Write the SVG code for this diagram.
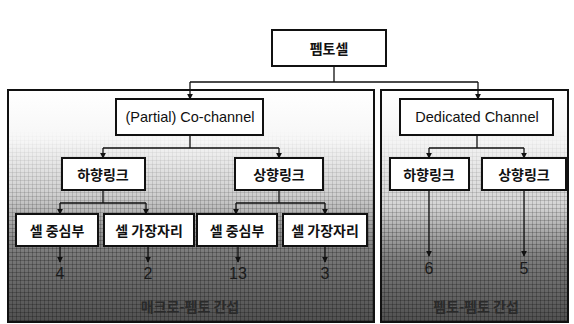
<svg xmlns="http://www.w3.org/2000/svg" width="574" height="324" viewBox="0 0 574 324">
<defs>
<linearGradient id="bgL" x1="0" y1="90" x2="0" y2="322" gradientUnits="userSpaceOnUse">
<stop offset="0" stop-color="#ffffff"/>
<stop offset="0.22" stop-color="#f6f6f6"/>
<stop offset="0.45" stop-color="#cfcfcf"/>
<stop offset="0.7" stop-color="#7a7a7a"/>
<stop offset="1" stop-color="#505050"/>
</linearGradient>
<linearGradient id="bgR" x1="0" y1="90" x2="0" y2="322" gradientUnits="userSpaceOnUse">
<stop offset="0" stop-color="#ffffff"/>
<stop offset="0.22" stop-color="#f4f4f4"/>
<stop offset="0.5" stop-color="#d4d4d4"/>
<stop offset="0.72" stop-color="#7e7e7e"/>
<stop offset="1" stop-color="#505050"/>
</linearGradient>
<linearGradient id="fade" x1="0" y1="130" x2="0" y2="240" gradientUnits="userSpaceOnUse">
<stop offset="0" stop-color="#000"/>
<stop offset="1" stop-color="#fff"/>
</linearGradient>
<mask id="gm" maskUnits="userSpaceOnUse" x="0" y="0" width="574" height="324">
<rect x="0" y="0" width="574" height="324" fill="url(#fade)"/>
</mask>
<pattern id="grid" width="4" height="4" patternUnits="userSpaceOnUse">
<path d="M0 0.5H4M0.5 0V4" stroke="#000" stroke-opacity="0.22" stroke-width="1"/>
</pattern>
<marker id="arr" viewBox="0 0 8 8" refX="7" refY="4" markerWidth="6" markerHeight="6" orient="auto" markerUnits="userSpaceOnUse">
<path d="M0 0L8 4L0 8z" fill="#111"/>
</marker>
</defs>
<style>
.box{fill:#fff;stroke:#111;stroke-width:2}
.panel{stroke:#111;stroke-width:2}
.ko{font-family:"Noto Sans CJK KR","Noto Sans",sans-serif;font-weight:bold;font-size:14px;fill:#111;text-anchor:middle;dominant-baseline:central}
.en{font-family:"Liberation Sans","Noto Sans",sans-serif;font-size:14.5px;fill:#111;text-anchor:middle;dominant-baseline:central}
.num{font-family:"Liberation Sans",sans-serif;font-size:16px;fill:#1a1a1a;text-anchor:middle;dominant-baseline:central}
.lbl{font-family:"Noto Sans CJK KR",sans-serif;font-weight:bold;font-size:14px;fill:#2a2a2a;text-anchor:middle;dominant-baseline:central}
.ln{fill:none;stroke:#111;stroke-width:1.3}
.ar{fill:none;stroke:#111;stroke-width:1.3;marker-end:url(#arr)}
</style>
<rect width="574" height="324" fill="#fff"/>
<g id="panel-left">
<rect x="8" y="90" width="366" height="232" class="panel" fill="url(#bgL)"/>
<rect x="9" y="130" width="364" height="191" fill="url(#grid)" mask="url(#gm)"/>
<text x="190" y="306" class="lbl">매크로-펨토 간섭</text>
</g>
<g id="panel-right">
<rect x="381" y="90" width="187" height="232" class="panel" fill="url(#bgR)"/>
<rect x="382" y="130" width="185" height="191" fill="url(#grid)" mask="url(#gm)"/>
<text x="476" y="306" class="lbl">펨토-펨토 간섭</text>
</g>
<g id="connectors">
<path class="ln" d="M334 66V82M190 82H478"/>
<path class="ar" d="M190 82V99"/>
<path class="ar" d="M478 82V99"/>
<path class="ln" d="M190 135V148M103 148H279"/>
<path class="ar" d="M103 148V158"/>
<path class="ar" d="M279 148V158"/>
<path class="ln" d="M477 135V148M429 148H524"/>
<path class="ar" d="M429 148V158"/>
<path class="ar" d="M524 148V158"/>
<path class="ln" d="M103 190V203M60 203H146"/>
<path class="ar" d="M60 203V214"/>
<path class="ar" d="M146 203V214"/>
<path class="ln" d="M279 190V203M236 203H325"/>
<path class="ar" d="M236 203V214"/>
<path class="ar" d="M325 203V214"/>
<path class="ar" d="M60 246V262"/>
<path class="ar" d="M148 246V262"/>
<path class="ar" d="M238 246V262"/>
<path class="ar" d="M325 246V262"/>
<path class="ar" d="M429 190V256"/>
<path class="ar" d="M524 190V256"/>
</g>
<g id="femtocell">
<rect x="272" y="30" width="114" height="36" class="box"/>
<text x="329" y="48" class="ko">펨토셀</text>
</g>
<g id="co-channel">
<rect x="116" y="99" width="147" height="36" class="box"/>
<text x="190" y="117" class="en">(Partial) Co-channel</text>
</g>
<g id="dedicated">
<rect x="400" y="99" width="153" height="36" class="box"/>
<text x="477" y="117" class="en">Dedicated Channel</text>
</g>
<g id="dl-left">
<rect x="62" y="158" width="83" height="32" class="box"/>
<text x="103" y="174" class="ko">하향링크</text>
</g>
<g id="ul-left">
<rect x="235" y="158" width="88" height="32" class="box"/>
<text x="279" y="174" class="ko">상향링크</text>
</g>
<g id="dl-right">
<rect x="390" y="158" width="79" height="32" class="box"/>
<text x="429" y="174" class="ko">하향링크</text>
</g>
<g id="ul-right">
<rect x="482" y="158" width="84" height="32" class="box"/>
<text x="524" y="174" class="ko">상향링크</text>
</g>
<g id="dl-center">
<rect x="16" y="214" width="82" height="32" class="box"/>
<text x="57" y="230" class="ko">셀 중심부</text>
<text x="60" y="273" class="num">4</text>
</g>
<g id="dl-edge">
<rect x="104" y="214" width="90" height="32" class="box"/>
<text x="149" y="230" class="ko">셀 가장자리</text>
<text x="148" y="273" class="num">2</text>
</g>
<g id="ul-center">
<rect x="197" y="214" width="80" height="32" class="box"/>
<text x="237" y="230" class="ko">셀 중심부</text>
<text x="238" y="273" class="num">13</text>
</g>
<g id="ul-edge">
<rect x="283" y="214" width="84" height="32" class="box"/>
<text x="325" y="230" class="ko">셀 가장자리</text>
<text x="325" y="273" class="num">3</text>
</g>
<g id="dd-num">
<text x="429" y="268" class="num">6</text>
<text x="524" y="268" class="num">5</text>
</g>
</svg>
